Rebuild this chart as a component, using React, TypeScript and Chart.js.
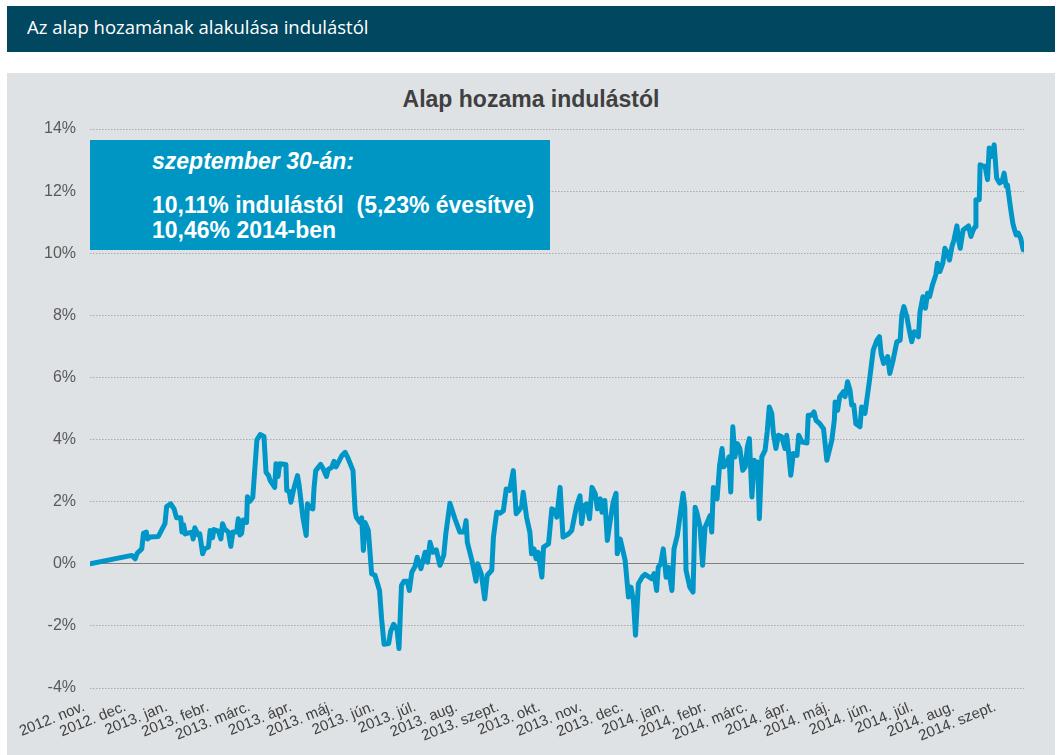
import React, { useEffect, useRef } from "react";
import { Chart, registerables } from "chart.js";

Chart.register(...registerables);

const headerTitle = "Az alap hozamának alakulása indulástól";
const chartTitle = "Alap hozama indulástól";
const boxLines = ["szeptember 30-án:", "10,11% indulástól  (5,23% évesítve)", "10,46% 2014-ben"];

const monthLabels = [
  "2012. nov.", "2012. dec.", "2013. jan.", "2013. febr.", "2013. márc.", "2013. ápr.",
  "2013. máj.", "2013. jún.", "2013. júl.", "2013. aug.", "2013. szept.", "2013. okt.",
  "2013. nov.", "2013. dec.", "2014. jan.", "2014. febr.", "2014. márc.", "2014. ápr.",
  "2014. máj.", "2014. jún.", "2014. júl.", "2014. aug.", "2014. szept.",
];

const yTickValues = [-4, -2, 0, 2, 4, 6, 8, 10, 12, 14];

// time since inception, in months
const months = [
  0, 1.01, 1.09, 1.14, 1.25, 1.29, 1.36, 1.39, 1.45, 1.65, 1.81, 1.85, 1.95, 2.03, 2.09, 2.19,
  2.22, 2.26, 2.3, 2.46, 2.49, 2.53, 2.61, 2.65, 2.72, 2.77, 2.86, 2.9, 2.96, 2.99, 3.1, 3.16,
  3.2, 3.26, 3.34, 3.4, 3.45, 3.54, 3.58, 3.62, 3.66, 3.7, 3.78, 3.8, 3.86, 3.93, 4.03, 4.11,
  4.2, 4.25, 4.31, 4.35, 4.46, 4.49, 4.54, 4.58, 4.73, 4.75, 4.81, 4.85, 4.91, 5.01, 5.05, 5.14,
  5.22, 5.25, 5.32, 5.38, 5.41, 5.45, 5.57, 5.63, 5.71, 5.75, 5.84, 5.89, 5.94, 6.08, 6.16, 6.22,
  6.35, 6.38, 6.4, 6.43, 6.52, 6.56, 6.6, 6.64, 6.72, 6.8, 6.88, 6.99, 7.04, 7.1, 7.21, 7.26,
  7.33, 7.41, 7.46, 7.52, 7.58, 7.66, 7.71, 7.77, 7.85, 7.9, 7.99, 8.09, 8.15, 8.21, 8.28, 8.36,
  8.45, 8.54, 8.59, 8.69, 8.81, 8.93, 9.03, 9.08, 9.11, 9.22, 9.32, 9.36, 9.45, 9.53, 9.59, 9.7,
  9.74, 9.82, 9.9, 9.98, 10.05, 10.13, 10.22, 10.29, 10.35, 10.42, 10.46, 10.54, 10.62, 10.66, 10.72, 10.77,
  10.82, 10.91, 10.95, 11.07, 11.15, 11.23, 11.27, 11.35, 11.42, 11.55, 11.63, 11.75, 11.83, 11.87, 11.93, 11.99,
  12.06, 12.12, 12.2, 12.25, 12.32, 12.36, 12.43, 12.49, 12.55, 12.63, 12.7, 12.73, 12.8, 12.92, 13.0, 13.06,
  13.12, 13.17, 13.24, 13.33, 13.4, 13.56, 13.62, 13.68, 13.72, 13.78, 13.84, 13.91, 13.96, 14.05, 14.1, 14.18,
  14.32, 14.36, 14.39, 14.48, 14.56, 14.61, 14.65, 14.73, 14.79, 14.85, 14.97, 15.01, 15.05, 15.14, 15.2, 15.26,
  15.3, 15.37, 15.43, 15.47, 15.52, 15.57, 15.63, 15.69, 15.76, 15.82, 15.87, 15.92, 15.98, 16.04, 16.08, 16.12,
  16.16, 16.22, 16.3, 16.35, 16.4, 16.46, 16.5, 16.56, 16.62, 16.7, 16.78, 16.82, 16.86, 16.92, 16.98, 17.07,
  17.11, 17.19, 17.31, 17.34, 17.42, 17.48, 17.53, 17.62, 17.71, 17.79, 17.91, 17.97, 17.99, 18.05, 18.1, 18.19,
  18.23, 18.29, 18.35, 18.39, 18.44, 18.49, 18.59, 18.63, 18.71, 18.82, 18.91, 19.0, 19.06, 19.1, 19.16, 19.26,
  19.31, 19.39, 19.48, 19.56, 19.6, 19.65, 19.72, 19.78, 19.84, 19.9, 20.0, 20.04, 20.11, 20.17, 20.22, 20.27,
  20.34, 20.42, 20.46, 20.52, 20.59, 20.64, 20.7, 20.75, 20.81, 20.86, 20.93, 20.97, 21.01, 21.08, 21.17, 21.21,
  21.27, 21.31, 21.37, 21.39, 21.47, 21.49, 21.57, 21.61, 21.67, 21.71, 21.77, 21.83, 21.89, 21.96, 22.02, 22.07,
  22.12, 22.15, 22.22, 22.28, 22.31, 22.36, 22.41, 22.47, 22.53,
];

// cumulative return since inception, %
const returns = [
  0, 0.27, 0.16, 0.34, 0.48, 0.98, 1.02, 0.8, 0.86, 0.88, 1.29, 1.84, 1.93, 1.77, 1.48, 1.48,
  1.02, 1.26, 0.96, 1.02, 0.8, 1.16, 0.93, 0.96, 0.32, 0.48, 0.54, 1.07, 0.84, 1.1, 1.05, 0.8,
  1.29, 1.1, 1.02, 0.56, 1.02, 1.02, 1.45, 0.93, 0.98, 1.41, 1.33, 2.16, 2.01, 2.14, 3.99, 4.16,
  4.1, 2.95, 2.84, 2.68, 2.46, 3.22, 2.81, 3.22, 3.2, 2.36, 2.33, 1.98, 2.36, 2.84, 2.52, 1.5,
  0.91, 1.93, 1.8, 1.77, 2.46, 3.0, 3.2, 3.06, 2.81, 3.03, 3.11, 3.3, 3.12, 3.48, 3.59, 3.43,
  3.0, 2.2, 1.71, 1.5, 1.33, 1.48, 0.43, 1.33, 1.07, -0.32, -0.37, -0.86, -1.77, -2.59, -2.57, -2.17,
  -1.95, -2.09, -2.73, -0.7, -0.56, -0.56, -0.86, -0.27, -0.08, 0.21, -0.16, 0.37, 0.05, 0.69, 0.37, 0.45,
  -0.05, 0.27, 0.96, 1.95, 1.45, 1.02, 1.02, 1.39, 0.69, 0.11, -0.56, 0, -0.34, -1.13, -0.37, -0.21,
  0.86, 1.66, 1.63, 1.71, 2.41, 2.36, 3.0, 1.61, 1.71, 1.84, 2.3, 1.5, 1.02, 0.32, 0.48, 0.16,
  0.37, -0.43, 0.54, 0.64, 1.77, 1.71, 1.5, 2.46, 0.86, 0.96, 1.07, 1.87, 2.19, 1.29, 1.87, 1.93,
  1.45, 2.46, 2.25, 1.77, 2.09, 1.66, 2.04, 0.75, 1.29, 1.98, 2.27, 0.32, 0.8, 0.11, -1.07, -0.75,
  -1.18, -2.3, -0.64, -0.43, -0.34, -0.48, -0.32, -0.86, -0.11, 0, 0.48, -0.43, -0.11, -0.86, 0.48, 0.91,
  2.27, 1.82, -0.21, -0.75, -0.91, 1.82, 1.66, 1.18, -0.05, 1.18, 1.55, 1.02, 2.46, 2.09, 3.16, 3.71,
  3.12, 3.22, 3.44, 2.31, 4.41, 3.44, 3.87, 3.71, 3.01, 3.12, 3.76, 4.03, 2.15, 3.33, 2.85, 3.28,
  1.45, 3.44, 3.66, 4.25, 5.05, 4.84, 4.19, 3.71, 4.14, 4.09, 3.71, 4.14, 3.66, 2.85, 3.55, 3.49,
  4.14, 3.92, 3.89, 4.78, 4.78, 4.89, 4.62, 4.51, 4.35, 3.33, 3.98, 4.62, 5.21, 4.94, 5.38, 5.54,
  5.38, 5.86, 5.59, 5.11, 5.11, 4.51, 4.41, 5.05, 4.84, 5.91, 6.88, 7.2, 7.31, 6.77, 6.45, 6.67,
  6.13, 6.56, 7.15, 7.2, 8.01, 8.28, 7.96, 7.53, 7.15, 7.47, 7.31, 8.12, 8.6, 8.23, 8.71, 8.6,
  8.98, 9.3, 9.68, 9.41, 9.68, 10.16, 10.0, 9.78, 10.21, 10.43, 10.88, 10.43, 10.16, 10.75, 10.84, 10.88,
  10.54, 10.7, 10.86, 11.72, 11.72, 12.85, 12.8, 12.8, 12.37, 13.39, 13.12, 13.49, 12.42, 12.26, 12.31, 12.58,
  12.15, 12.2, 11.5, 10.97, 10.81, 10.59, 10.65, 10.48, 10.11,
];

const LINE_COLOR = "#0096c8";
const FONT = '"Liberation Sans", Arial, sans-serif';

export default function App() {
  const canvasRef = useRef<HTMLCanvasElement | null>(null);

  useEffect(() => {
    const canvas = canvasRef.current;
    if (!canvas) return;
    const chart = new Chart(canvas, {
      type: "line",
      data: {
        datasets: [
          {
            data: months.map((m, i) => ({ x: m, y: returns[i] })),
            borderColor: LINE_COLOR,
            borderWidth: 5,
            pointRadius: 0,
            tension: 0,
            borderJoinStyle: "round",
            borderCapStyle: "round",
            fill: false,
          },
        ],
      },
      options: {
        animation: false,
        responsive: false,
        maintainAspectRatio: false,
        layout: { padding: { top: 129, right: 38, bottom: 0, left: 0 } },
        plugins: {
          legend: { display: false },
          tooltip: { enabled: false },
          title: { display: false },
        },
        scales: {
          x: {
            type: "linear",
            min: 0,
            max: 22.55,
            afterBuildTicks: (s: any) => {
              s.ticks = monthLabels.map((_, i) => ({ value: i }));
            },
            afterFit: (s: any) => {
              s.height = 67;
            },
            ticks: {
              autoSkip: false,
              minRotation: 22,
              maxRotation: 22,
              padding: 2,
              labelOffset: -6,
              color: "#404040",
              font: { family: FONT, size: 15 },
              callback: (v: any) => monthLabels[Math.round(Number(v))] ?? "",
            },
            grid: { display: false },
            border: { display: false },
          },
          y: {
            type: "linear",
            min: -4,
            max: 14,
            afterBuildTicks: (s: any) => {
              s.ticks = yTickValues.map((v) => ({ value: v }));
            },
            afterFit: (s: any) => {
              s.width = 90;
            },
            ticks: {
              padding: 14,
              color: "#595959",
              font: { family: FONT, size: 16 },
              callback: (v: any) => `${v}%`,
            },
            grid: {
              drawTicks: false,
              lineWidth: 1,
              color: (c: any) => (c.tick && c.tick.value === 0 ? "#7f7f7f" : "#a9abad"),
            },
            border: {
              display: false,
              dash: (c: any) => (c.tick && c.tick.value === 0 ? [] : [1.5, 1.5]),
            },
          },
        },
      },
    });
    return () => chart.destroy();
  }, []);

  return (
    <div style={{ position: "absolute", left: 0, top: 0, width: 1062, height: 755, background: "#ffffff", overflow: "hidden" }}>
      <div
        style={{
          position: "absolute", left: 7, top: 6, width: 1048, height: 46, background: "#00475f",
          color: "#ffffff", fontFamily: '"Open Sans", sans-serif', fontSize: 18.5, lineHeight: "42px",
          paddingLeft: 20, boxSizing: "border-box", whiteSpace: "nowrap",
        }}
      >
        {headerTitle}
      </div>
      <div style={{ position: "absolute", left: 7, top: 73, width: 1048, height: 682, background: "#dee2e5" }} />
      <div
        style={{
          position: "absolute", left: 7, top: 84, width: 1048, textAlign: "center", fontFamily: FONT,
          fontWeight: "bold", fontSize: 23, color: "#404040", lineHeight: "30px",
        }}
      >
        {chartTitle}
      </div>
      <canvas ref={canvasRef} width={1062} height={755} style={{ position: "absolute", left: 0, top: 0, width: 1062, height: 755 }} />
      <div
        style={{
          position: "absolute", left: 90, top: 140, width: 460, height: 110, background: "#0096c4",
          color: "#ffffff", fontFamily: FONT, fontWeight: "bold", fontSize: 23, whiteSpace: "pre",
        }}
      >
        <div style={{ position: "absolute", left: 62, top: 7, fontStyle: "italic", lineHeight: "28px" }}>{boxLines[0]}</div>
        <div style={{ position: "absolute", left: 62, top: 51, lineHeight: "28px" }}>{boxLines[1]}</div>
        <div style={{ position: "absolute", left: 62, top: 76, lineHeight: "28px" }}>{boxLines[2]}</div>
      </div>
    </div>
  );
}
